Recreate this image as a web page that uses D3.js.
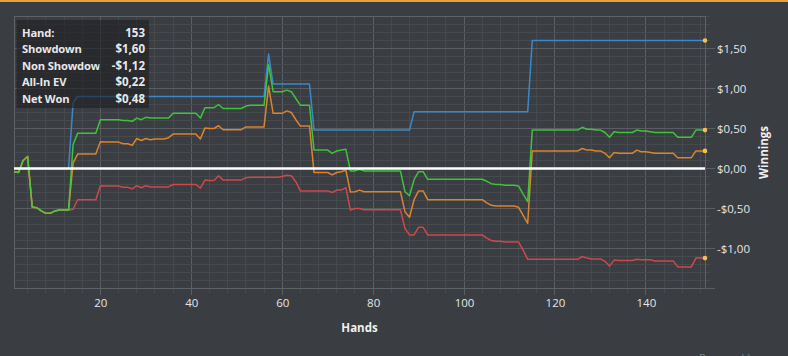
<!DOCTYPE html>
<html><head><meta charset="utf-8">
<script src="https://cdn.jsdelivr.net/npm/d3@7"></script>
<style>
html,body{margin:0;padding:0;background:#3a3d42;overflow:hidden;}
svg{display:block;}
</style></head><body>
<svg id="chart" width="788" height="356"></svg>
<script>
const hands = d3.range(1, 154);
const showdown = [
0,0,0,0,0,0,0,0,0,0,
0,0,0,0.82,0.90,0.90,0.90,0.90,0.90,0.90,
0.90,0.90,0.90,0.90,0.90,0.90,0.90,0.90,0.90,0.90,
0.90,0.90,0.90,0.90,0.90,0.90,0.90,0.90,0.90,0.90,
0.90,0.90,0.90,0.90,0.90,0.90,0.90,0.90,0.90,0.90,
0.90,0.90,0.90,0.90,0.90,0.90,1.43,1.055,1.055,1.055,
1.055,1.055,1.055,1.055,1.055,1.055,0.48,0.48,0.48,0.48,
0.48,0.48,0.48,0.48,0.48,0.48,0.48,0.48,0.48,0.48,
0.48,0.48,0.48,0.48,0.48,0.48,0.48,0.48,0.71,0.71,
0.71,0.71,0.71,0.71,0.71,0.71,0.71,0.71,0.71,0.71,
0.71,0.71,0.71,0.71,0.71,0.71,0.71,0.71,0.71,0.71,
0.71,0.71,0.71,0.71,1.60,1.60,1.60,1.60,1.60,1.60,
1.60,1.60,1.60,1.60,1.60,1.60,1.60,1.60,1.60,1.60,
1.60,1.60,1.60,1.60,1.60,1.60,1.60,1.60,1.60,1.60,
1.60,1.60,1.60,1.60,1.60,1.60,1.60,1.60,1.60,1.60,
1.60,1.60,1.60];
const nonShowdown = [
-0.04,-0.05,0.10,0.15,-0.48,-0.49,-0.53,-0.56,-0.56,-0.53,
-0.52,-0.52,-0.52,-0.51,-0.39,-0.39,-0.39,-0.39,-0.39,-0.215,
-0.22,-0.22,-0.22,-0.22,-0.235,-0.235,-0.255,-0.215,-0.24,-0.215,
-0.23,-0.23,-0.23,-0.23,-0.23,-0.20,-0.20,-0.20,-0.20,-0.20,
-0.20,-0.245,-0.145,-0.15,-0.15,-0.09,-0.145,-0.145,-0.145,-0.145,
-0.145,-0.115,-0.11,-0.11,-0.11,-0.11,-0.11,-0.11,-0.11,-0.10,
-0.085,-0.09,-0.165,-0.28,-0.28,-0.28,-0.28,-0.28,-0.28,-0.28,
-0.30,-0.27,-0.27,-0.24,-0.52,-0.50,-0.50,-0.515,-0.515,-0.515,
-0.515,-0.515,-0.515,-0.515,-0.515,-0.515,-0.75,-0.83,-0.83,-0.735,
-0.735,-0.83,-0.83,-0.83,-0.83,-0.83,-0.83,-0.83,-0.83,-0.83,
-0.83,-0.83,-0.83,-0.83,-0.87,-0.90,-0.91,-0.91,-0.92,-0.92,
-0.92,-0.92,-1.02,-1.135,-1.135,-1.135,-1.135,-1.135,-1.135,-1.135,
-1.135,-1.135,-1.135,-1.135,-1.135,-1.10,-1.12,-1.13,-1.13,-1.13,
-1.16,-1.22,-1.145,-1.15,-1.15,-1.15,-1.15,-1.135,-1.14,-1.14,
-1.14,-1.155,-1.155,-1.155,-1.155,-1.155,-1.23,-1.23,-1.23,-1.23,
-1.12,-1.12,-1.12];
const allInEV = [
-0.04,-0.05,0.10,0.15,-0.48,-0.49,-0.53,-0.56,-0.56,-0.53,
-0.52,-0.52,-0.52,0.07,0.18,0.18,0.18,0.18,0.18,0.335,
0.33,0.33,0.33,0.33,0.31,0.31,0.29,0.375,0.35,0.375,
0.36,0.37,0.37,0.37,0.385,0.43,0.43,0.43,0.43,0.43,
0.43,0.37,0.505,0.50,0.50,0.535,0.485,0.485,0.485,0.485,
0.485,0.52,0.52,0.52,0.52,0.52,1.03,0.69,0.69,0.69,
0.72,0.70,0.61,0.53,0.53,0.53,-0.05,-0.05,-0.05,-0.05,
-0.08,-0.05,-0.04,-0.02,-0.295,-0.29,-0.27,-0.29,-0.29,-0.29,
-0.29,-0.29,-0.29,-0.29,-0.29,-0.29,-0.54,-0.61,-0.39,-0.28,
-0.28,-0.39,-0.39,-0.39,-0.39,-0.39,-0.39,-0.39,-0.39,-0.39,
-0.39,-0.39,-0.39,-0.39,-0.43,-0.46,-0.47,-0.47,-0.47,-0.47,
-0.47,-0.485,-0.585,-0.685,0.22,0.22,0.22,0.22,0.22,0.22,
0.22,0.22,0.22,0.22,0.22,0.25,0.23,0.23,0.22,0.22,
0.19,0.135,0.20,0.19,0.19,0.19,0.19,0.23,0.21,0.21,
0.20,0.19,0.19,0.19,0.19,0.19,0.135,0.135,0.135,0.135,
0.22,0.22,0.22];
const netWon = [
-0.04,-0.05,0.10,0.15,-0.48,-0.49,-0.53,-0.56,-0.56,-0.53,
-0.52,-0.52,-0.52,0.30,0.44,0.44,0.44,0.44,0.44,0.61,
0.61,0.61,0.61,0.61,0.60,0.60,0.59,0.63,0.61,0.64,
0.63,0.63,0.63,0.63,0.63,0.69,0.69,0.69,0.69,0.69,
0.69,0.63,0.76,0.76,0.76,0.80,0.75,0.75,0.75,0.75,
0.75,0.78,0.79,0.79,0.79,0.79,1.30,0.96,0.96,0.96,
0.98,0.96,0.875,0.79,0.79,0.79,0.23,0.23,0.23,0.23,
0.19,0.22,0.23,0.24,-0.03,-0.03,-0.01,-0.03,-0.03,-0.03,
-0.03,-0.03,-0.03,-0.03,-0.03,-0.03,-0.29,-0.34,-0.14,-0.04,
-0.04,-0.135,-0.135,-0.135,-0.135,-0.135,-0.135,-0.135,-0.135,-0.135,
-0.135,-0.135,-0.135,-0.135,-0.16,-0.19,-0.20,-0.20,-0.21,-0.21,
-0.21,-0.22,-0.32,-0.415,0.48,0.48,0.48,0.48,0.48,0.48,
0.48,0.48,0.48,0.48,0.48,0.515,0.49,0.49,0.48,0.48,
0.45,0.39,0.46,0.45,0.45,0.45,0.45,0.48,0.47,0.47,
0.46,0.45,0.45,0.45,0.45,0.45,0.39,0.39,0.39,0.39,
0.48,0.48,0.48];
const seriesNames = ["Showdown", "Non Showdown", "All-In EV", "Net Won"];
const seriesColors = ["#3a8fd6", "#d94a4c", "#e88a2c", "#3dcf3a"];
const xTickValues = [20, 40, 60, 80, 100, 120, 140];
const yTickValues = [-1.0, -0.5, 0, 0.5, 1.0, 1.5];

const seriesData = [showdown, nonShowdown, allInEV, netWon];
const W = 788, H = 356;
const svg = d3.select("#chart");
const x = d3.scaleLinear().domain([1, 153]).range([14, 705]);
const y = d3.scaleLinear().domain([-1.5, 1.9]).range([288.5, 16.5]);
const fmt = v => (v < -0.0001 ? "-" : "") + "$" + Math.abs(v).toFixed(2).replace(".", ",");
const FONT = "'Open Sans', 'Noto Sans', sans-serif";

svg.append("rect").attr("x", 0).attr("y", 0).attr("width", W).attr("height", H).attr("fill", "#3a3d42");
svg.append("rect").attr("x", 0).attr("y", 0).attr("width", W).attr("height", 2).attr("fill", "#e8a23c");

// grid
const g = svg.append("g").attr("shape-rendering", "crispEdges");
const vMinor = d3.range(4, 153, 4);
g.selectAll(".vg").data(vMinor).enter().append("line")
  .attr("x1", d => x(d)).attr("x2", d => x(d)).attr("y1", y(1.9)).attr("y2", d => y(-1.5) + (d % 20 === 0 ? 6 : 4))
  .attr("stroke", d => d % 20 === 0 ? "#5a5d62" : "#46494e").attr("stroke-width", 1);
const hLines = d3.range(-15, 20).map(k => k / 10);
g.selectAll(".hg").data(hLines).enter().append("line")
  .attr("x1", x(1)).attr("x2", d => x(153) + (Math.round(d * 10) % 5 === 0 ? 10 : 4.5))
  .attr("y1", d => y(d)).attr("y2", d => y(d))
  .attr("stroke", d => Math.round(d * 10) % 5 === 0 ? "#5a5d62" : "#46494e").attr("stroke-width", 1);
g.append("rect").attr("x", x(1)).attr("y", y(1.9)).attr("width", x(153) - x(1)).attr("height", y(-1.5) - y(1.9))
  .attr("fill", "none").attr("stroke", "#5e6166").attr("stroke-width", 1);

// axes labels
const xAxis = d3.axisBottom(x).tickValues(xTickValues).tickSize(0).tickPadding(0).tickFormat(d3.format("d"));
const xa = svg.append("g").attr("transform", "translate(0,303)").call(xAxis);
xa.select(".domain").remove();
xa.selectAll("text").attr("fill", "#e6e6e6").attr("font-family", FONT).attr("font-size", "11.5px").attr("dy", "0.35em").attr("y", 0);

const yAxis = d3.axisRight(y).tickValues(yTickValues).tickSize(0).tickPadding(0).tickFormat(fmt);
const ya = svg.append("g").attr("transform", "translate(717,0)").call(yAxis);
ya.select(".domain").remove();
ya.selectAll("text").attr("fill", "#e6e6e6").attr("font-family", FONT).attr("font-size", "11.5px").attr("x", 0).attr("dy", "0.35em");

svg.append("text").attr("x", (x(1) + x(153)) / 2).attr("y", 332).attr("text-anchor", "middle")
  .attr("font-family", FONT).attr("font-weight", "bold").attr("font-size", "11.5px").attr("fill", "#f0f0f0").text("Hands");
svg.append("text").attr("transform", `translate(768,${(y(1.9) + y(-1.5)) / 2}) rotate(-90)`).attr("text-anchor", "middle")
  .attr("font-family", FONT).attr("font-weight", "bold").attr("font-size", "11.5px").attr("fill", "#f0f0f0").text("Winnings");

// lines
const line = d3.line().x((d, i) => x(hands[i])).y(d => y(d));
seriesData.forEach((s, k) => {
  svg.append("path").datum(s).attr("d", line).attr("fill", "none")
    .attr("stroke", seriesColors[k]).attr("stroke-width", 1.5).attr("stroke-opacity", 0.92)
    .attr("stroke-linejoin", "round");
});
// zero line
svg.append("line").attr("x1", x(1)).attr("x2", x(153)).attr("y1", y(0)).attr("y2", y(0))
  .attr("stroke", "#ffffff").attr("stroke-width", 2.5);
// end markers
seriesData.forEach((s, k) => {
  svg.append("circle").attr("cx", x(hands[hands.length - 1])).attr("cy", y(s[s.length - 1])).attr("r", 2.3).attr("fill", "#f4c150");
});

// tooltip
const tip = svg.append("g");
tip.append("rect").attr("x", 16.5).attr("y", 20).attr("width", 132.5).attr("height", 88).attr("fill", "#1e1f22").attr("fill-opacity", 0.62);
svg.append("clipPath").attr("id", "lblclip").append("rect").attr("x", 16).attr("y", 18).attr("width", 83.5).attr("height", 92);
const rows = [["Hand:", String(hands[hands.length - 1])]].concat(
  [0, 1, 2, 3].map(k => [seriesNames[k], fmt(seriesData[k][seriesData[k].length - 1])]));
rows.forEach((r, i) => {
  const yy = 36.5 + i * 16.5;
  tip.append("text").attr("x", 22).attr("y", yy).attr("clip-path", "url(#lblclip)")
    .attr("font-family", FONT).attr("font-weight", "bold").attr("font-size", "11.2px").attr("letter-spacing", "-0.15px").attr("fill", "#e8e8e8").text(r[0]);
  tip.append("text").attr("x", 145).attr("y", yy).attr("text-anchor", "end")
    .attr("font-family", FONT).attr("font-weight", "bold").attr("font-size", "11.5px").attr("fill", "#e8e8e8").text(r[1]);
});

svg.append("text").attr("x", 699).attr("y", 361.5).attr("font-family", FONT).attr("font-size", "11px").attr("fill", "#7d8085").text("Powered by");
</script></body></html>
